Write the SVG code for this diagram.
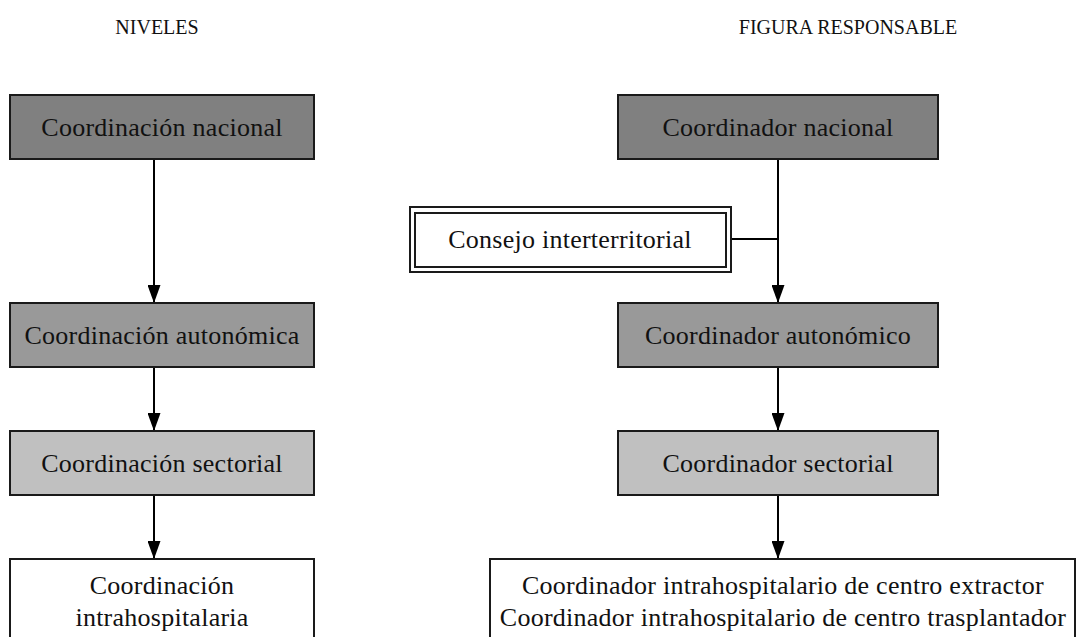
<svg xmlns="http://www.w3.org/2000/svg" width="1077" height="637" viewBox="0 0 1077 637">
  <style>
    .box { stroke: #1a1a1a; stroke-width: 2; }
    .n1 { fill: #808080; }
    .n2 { fill: #999999; }
    .n3 { fill: #c0c0c0; }
    .n4 { fill: #ffffff; }
    .lbl { font-family: "Liberation Serif", "Times New Roman", serif; font-size: 26px; letter-spacing: 0.25px; fill: #111; text-anchor: middle; }
    .hdr { font-family: "Liberation Serif", "Times New Roman", serif; font-size: 20px; fill: #111; text-anchor: middle; }
    .edge { stroke: #000; stroke-width: 2; fill: none; }
  </style>
  <defs>
    <marker id="arrow" viewBox="0 0 18 13" refX="18" refY="6.5" markerWidth="18" markerHeight="13" markerUnits="userSpaceOnUse" orient="auto">
      <path d="M0,0 L18,6.5 L0,13 Z" fill="#000"/>
    </marker>
  </defs>
  <rect width="1077" height="637" fill="#ffffff"/>

  <!-- column headers -->
  <text class="hdr" x="157" y="34">NIVELES</text>
  <text class="hdr" x="848" y="34">FIGURA RESPONSABLE</text>

  <!-- connectors -->
  <g id="connectors">
    <line class="edge" x1="154" y1="159" x2="154" y2="303" marker-end="url(#arrow)"/>
    <line class="edge" x1="154" y1="367" x2="154" y2="431" marker-end="url(#arrow)"/>
    <line class="edge" x1="154" y1="495" x2="154" y2="559" marker-end="url(#arrow)"/>
    <line class="edge" x1="778" y1="159" x2="778" y2="303" marker-end="url(#arrow)"/>
    <line class="edge" x1="731" y1="239" x2="778" y2="239"/>
    <line class="edge" x1="778" y1="367" x2="778" y2="431" marker-end="url(#arrow)"/>
    <line class="edge" x1="778" y1="495" x2="778" y2="559" marker-end="url(#arrow)"/>
  </g>

  <!-- levels -->
  <g id="coord-nacional">
    <rect class="box n1" x="10" y="95" width="304" height="64"/>
    <text class="lbl" x="162" y="136">Coordinación nacional</text>
  </g>
  <g id="coord-autonomica">
    <rect class="box n2" x="10" y="303" width="304" height="64"/>
    <text class="lbl" x="162" y="344">Coordinación autonómica</text>
  </g>
  <g id="coord-sectorial">
    <rect class="box n3" x="10" y="431" width="304" height="64"/>
    <text class="lbl" x="162" y="472">Coordinación sectorial</text>
  </g>
  <g id="coord-intrahospitalaria">
    <rect class="box n4" x="10" y="559" width="304" height="90"/>
    <text class="lbl" x="162" y="594">Coordinación</text>
    <text class="lbl" x="162" y="626">intrahospitalaria</text>
  </g>

  <!-- responsible figures -->
  <g id="coordinador-nacional">
    <rect class="box n1" x="618" y="95" width="320" height="64"/>
    <text class="lbl" x="778" y="136">Coordinador nacional</text>
  </g>
  <g id="consejo-interterritorial">
    <rect class="box n4" x="410" y="207" width="321" height="65"/>
    <rect class="box" fill="none" x="415" y="213" width="311" height="54"/>
    <text class="lbl" x="570" y="248">Consejo interterritorial</text>
  </g>
  <g id="coordinador-autonomico">
    <rect class="box n2" x="618" y="303" width="320" height="64"/>
    <text class="lbl" x="778" y="344">Coordinador autonómico</text>
  </g>
  <g id="coordinador-sectorial">
    <rect class="box n3" x="618" y="431" width="320" height="64"/>
    <text class="lbl" x="778" y="472">Coordinador sectorial</text>
  </g>
  <g id="coordinador-intrahospitalario">
    <rect class="box n4" x="490" y="559" width="585" height="90"/>
    <text class="lbl" x="783" y="594">Coordinador intrahospitalario de centro extractor</text>
    <text class="lbl" x="783" y="626">Coordinador intrahospitalario de centro trasplantador</text>
  </g>
</svg>
